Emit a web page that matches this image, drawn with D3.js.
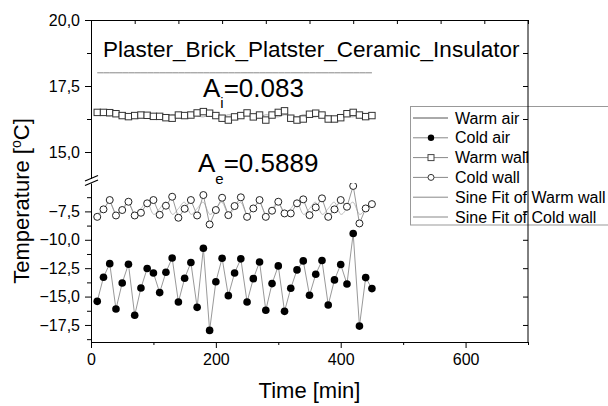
<!DOCTYPE html>
<html><head><meta charset="utf-8">
<script src="https://cdn.jsdelivr.net/npm/d3@7"></script>
<style>
body{margin:0;background:#fff;}
svg{font-family:"Liberation Sans",Arial,sans-serif;}
</style></head>
<body><svg id="c" width="608" height="406"></svg>
<script>
// ---- data ----
const times = [10,20,30,40,50,60,70,80,90,100,110,120,130,140,150,160,170,180,190,200,210,220,230,240,250,260,270,280,290,300,310,320,330,340,350,360,370,380,390,400,410,420,430,440,450];
const warmAir = [18.0,18.0,18.0,18.0,18.0,18.0,18.0,18.0,18.0,18.0,18.0,18.0,18.0,18.0,18.0,18.0,18.0,18.0,18.0,18.0,18.0,18.0,18.0,18.0,18.0,18.0,18.0,18.0,18.0,18.0,18.0,18.0,18.0,18.0,18.0,18.0,18.0,18.0,18.0,18.0,18.0,18.0,18.0,18.0,18.0];
const coldAir = [-15.42,-13.3,-12.1,-16.1,-13.8,-12.15,-16.65,-14.24,-12.53,-12.92,-14.65,-12.86,-11.6,-15.48,-13.39,-12.0,-15.95,-10.74,-17.98,-13.7,-11.62,-14.92,-12.92,-11.68,-15.48,-13.42,-11.95,-16.2,-13.86,-12.3,-16.3,-14.27,-12.65,-11.86,-14.89,-13.03,-11.83,-15.74,-13.53,-12.18,-13.89,-9.45,-17.6,-13.33,-14.3];
const warmWall = [16.50,16.50,16.49,16.45,16.38,16.34,16.38,16.40,16.39,16.35,16.35,16.30,16.28,16.40,16.38,16.40,16.48,16.53,16.47,16.38,16.28,16.21,16.33,16.38,16.48,16.33,16.40,16.21,16.40,16.50,16.56,16.28,16.21,16.25,16.43,16.47,16.40,16.25,16.25,16.30,16.45,16.50,16.40,16.34,16.38];
const coldWall = [-7.98,-7.32,-6.5,-7.86,-7.38,-6.65,-7.86,-7.62,-6.79,-6.5,-7.8,-7.0,-6.21,-8.06,-7.27,-6.5,-7.86,-6.06,-8.65,-7.38,-6.3,-7.83,-7.03,-6.26,-7.98,-7.24,-6.5,-7.98,-7.44,-6.65,-7.68,-7.68,-6.79,-6.44,-7.83,-7.15,-6.35,-7.98,-7.32,-6.5,-7.09,-5.26,-8.56,-7.24,-6.86];
const warmFit = [16.44,16.40,16.36,16.43,16.39,16.35,16.42,16.38,16.34,16.41,16.37,16.33,16.41,16.37,16.33,16.41,16.37,16.33,16.41,16.37,16.33,16.41,16.37,16.33,16.41,16.37,16.33,16.41,16.37,16.33,16.41,16.37,16.33,16.41,16.37,16.33,16.41,16.37,16.33,16.41,16.37,16.33,16.41,16.37,16.33];
const coldFit = [-7.75,-7.25,-6.7,-7.75,-7.25,-6.7,-7.75,-7.25,-6.7,-7.75,-7.25,-6.7,-7.75,-7.25,-6.7,-7.75,-7.25,-6.7,-7.75,-7.25,-6.7,-7.75,-7.25,-6.7,-7.75,-7.25,-6.7,-7.75,-7.25,-6.7,-7.75,-7.25,-6.7,-7.75,-7.25,-6.7,-7.75,-7.25,-6.7,-7.75,-7.25,-6.7,-7.75,-7.25,-6.7];
const xTicks = [0,200,400,600];
const xMinor = [100,300,500,700];
const yUpTicks = [15,17.5,20];
const yUpMinor = [16.25,18.75];
const yLowTicks = [-7.5,-10,-12.5,-15,-17.5];
const yLowMinor = [-6.25,-8.75,-11.25,-13.75,-16.25,-18.75];
const legendLabels = ["Warm air","Cold air","Warm wall","Cold wall","Sine Fit of Warm wall","Sine Fit of Cold wall"];
const titleText = "Plaster_Brick_Platster_Ceramic_Insulator";

// ---- layout ----
const svg = d3.select("#c");
const L=91, R=528, T=20, B=342, upBot=178.4, lowTop=183;
const x = d3.scaleLinear().domain([0,700]).range([L,R]);
const xTop = d3.scaleLinear().domain([0,10]).range([L,R]);
const yUp = d3.scaleLinear().domain([14,20]).range([upBot,T]);
const yLow = d3.scaleLinear().domain([-19,-5]).range([B,lowTop]);
const fmt = d => d3.format(".1f")(d).replace(".",",");

const defs = svg.append("defs");
defs.append("clipPath").attr("id","cu").append("rect").attr("x",L).attr("y",T).attr("width",R-L).attr("height",upBot-T);
defs.append("clipPath").attr("id","cl").append("rect").attr("x",L).attr("y",lowTop).attr("width",R-L).attr("height",B-lowTop);

// legend (drawn below axes frame)
const lg = svg.append("g");
lg.append("rect").attr("x",410.5).attr("y",106.5).attr("width",230).attr("height",118.5)
  .attr("fill","#fff").attr("stroke","#999").attr("stroke-width",1);
legendLabels.forEach((lab,i)=>{
  const cy = 118 + i*19.8;
  lg.append("line").attr("x1",413).attr("x2",448).attr("y1",cy).attr("y2",cy)
    .attr("stroke", i===0 ? "#555" : "#888").attr("stroke-width",1);
  if(i===1) lg.append("circle").attr("cx",431).attr("cy",cy).attr("r",3.2).attr("fill","#000");
  if(i===2) lg.append("rect").attr("x",428).attr("y",cy-3).attr("width",6).attr("height",6).attr("fill","#fff").attr("stroke","#444");
  if(i===3) lg.append("circle").attr("cx",431).attr("cy",cy).attr("r",3).attr("fill","#fff").attr("stroke","#333");
  lg.append("text").attr("x",455).attr("y",cy+5.6).attr("font-size",16).attr("fill","#000").text(lab);
});

// series
const gu = svg.append("g").attr("clip-path","url(#cu)");
const gl = svg.append("g").attr("clip-path","url(#cl)");
const lineUp = d3.line().x((d,i)=>x(times[i])).y(d=>yUp(d));
const lineLow = d3.line().x((d,i)=>x(times[i])).y(d=>yLow(d));
const curveUp = d3.line().x((d,i)=>x(times[i])).y(d=>yUp(d)).curve(d3.curveCardinal);
const curveLow = d3.line().x((d,i)=>x(times[i])).y(d=>yLow(d)).curve(d3.curveCardinal);

gu.append("path").attr("d",lineUp(warmAir)).attr("fill","none").attr("stroke","#888").attr("stroke-width",1);
gu.append("path").attr("d",curveUp(warmFit)).attr("fill","none").attr("stroke","#aaa").attr("stroke-width",1);
gu.append("path").attr("d",lineUp(warmWall)).attr("fill","none").attr("stroke","#999").attr("stroke-width",1);
gu.selectAll("rect.ww").data(warmWall).join("rect").attr("class","ww")
  .attr("x",(d,i)=>x(times[i])-3.2).attr("y",d=>yUp(d)-3.2).attr("width",6.4).attr("height",6.4)
  .attr("fill","#fff").attr("stroke","#333").attr("stroke-width",1);

gl.append("path").attr("d",curveLow(coldFit)).attr("fill","none").attr("stroke","#bbb").attr("stroke-width",1);
gl.append("path").attr("d",lineLow(coldWall)).attr("fill","none").attr("stroke","#999").attr("stroke-width",1);
gl.append("path").attr("d",lineLow(coldAir)).attr("fill","none").attr("stroke","#999").attr("stroke-width",1);
gl.selectAll("circle.cw").data(coldWall).join("circle").attr("class","cw")
  .attr("cx",(d,i)=>x(times[i])).attr("cy",d=>yLow(d)).attr("r",3.5)
  .attr("fill","#fff").attr("stroke","#222").attr("stroke-width",1);
gl.selectAll("circle.ca").data(coldAir).join("circle").attr("class","ca")
  .attr("cx",(d,i)=>x(times[i])).attr("cy",d=>yLow(d)).attr("r",3.8)
  .attr("fill","#000");

// axes
function style(g){ g.selectAll("text").attr("font-size",16).attr("fill","#000").attr("font-family","'Liberation Sans',Arial,sans-serif");
  g.selectAll("line,path").attr("stroke","#000"); }
svg.append("g").attr("transform",`translate(0,${B})`)
  .call(d3.axisBottom(x).tickValues(xTicks).tickSize(6).tickSizeOuter(0).tickPadding(6).tickFormat(d3.format("d"))).call(style);
svg.append("g").attr("transform",`translate(0,${B})`)
  .call(d3.axisBottom(x).tickValues(xMinor).tickSize(3).tickFormat("")).call(g=>g.select(".domain").remove()).call(style);
svg.append("g").attr("transform",`translate(0,${T})`)
  .call(d3.axisBottom(xTop).ticks(10).tickSize(4).tickSizeOuter(0).tickFormat("")).call(style);
svg.append("g").attr("transform",`translate(${L},0)`)
  .call(d3.axisLeft(yUp).tickValues(yUpTicks).tickSize(6).tickSizeOuter(0).tickPadding(5).tickFormat(fmt)).call(style);
svg.append("g").attr("transform",`translate(${L},0)`)
  .call(d3.axisLeft(yUp).tickValues(yUpMinor).tickSize(4).tickFormat("")).call(g=>g.select(".domain").remove()).call(style);
svg.append("g").attr("transform",`translate(${L},0)`)
  .call(d3.axisLeft(yLow).tickValues(yLowTicks).tickSize(6).tickSizeOuter(0).tickPadding(5).tickFormat(fmt)).call(style);
svg.append("g").attr("transform",`translate(${L},0)`)
  .call(d3.axisLeft(yLow).tickValues(yLowMinor).tickSize(4).tickFormat("")).call(g=>g.select(".domain").remove()).call(style);
svg.append("g").attr("transform",`translate(${R},0)`)
  .call(d3.axisRight(yUp).tickValues(yUpTicks.concat(yUpMinor)).tickSize(-5).tickSizeOuter(0).tickFormat("")).call(g=>g.select(".domain").remove()).call(style);
svg.append("g").attr("transform",`translate(${R},0)`)
  .call(d3.axisRight(yLow).tickValues(yLowTicks).tickSize(-5).tickSizeOuter(0).tickFormat("")).call(g=>g.select(".domain").remove()).call(style);
// right frame line (continuous)
svg.append("line").attr("x1",R).attr("x2",R).attr("y1",T).attr("y2",B).attr("stroke","#000");

// axis break marks
svg.append("line").attr("x1",85).attr("y1",181).attr("x2",98).attr("y2",175.5).attr("stroke","#000").attr("stroke-width",1.2);
svg.append("line").attr("x1",85).attr("y1",185.5).attr("x2",98).attr("y2",180).attr("stroke","#000").attr("stroke-width",1.2);

// title & annotations
svg.append("text").attr("x",103).attr("y",57).attr("font-size",22.5).attr("fill","#000").text(titleText);
const ai = svg.append("text").attr("x",203).attr("y",97).attr("font-size",26).attr("fill","#000");
ai.append("tspan").text("A");
ai.append("tspan").attr("font-size",15).attr("dy",11).text("i");
ai.append("tspan").attr("dy",-11).text("=0.083");
const ae = svg.append("text").attr("x",198).attr("y",172).attr("font-size",26).attr("fill","#000");
ae.append("tspan").text("A");
ae.append("tspan").attr("font-size",15).attr("dy",12).text("e");
ae.append("tspan").attr("dy",-12).text("=0.5889");

// axis titles
svg.append("text").attr("x",(L+R)/2).attr("y",398).attr("text-anchor","middle").attr("font-size",22).attr("fill","#000").text("Time [min]");
const yt = svg.append("text").attr("transform","translate(29,201) rotate(-90)").attr("text-anchor","middle").attr("font-size",22).attr("fill","#000");
yt.append("tspan").text("Temperature [");
yt.append("tspan").attr("font-size",14).attr("dy",-8).text("o");
yt.append("tspan").attr("dy",8).text("C]");
</script></body></html>
